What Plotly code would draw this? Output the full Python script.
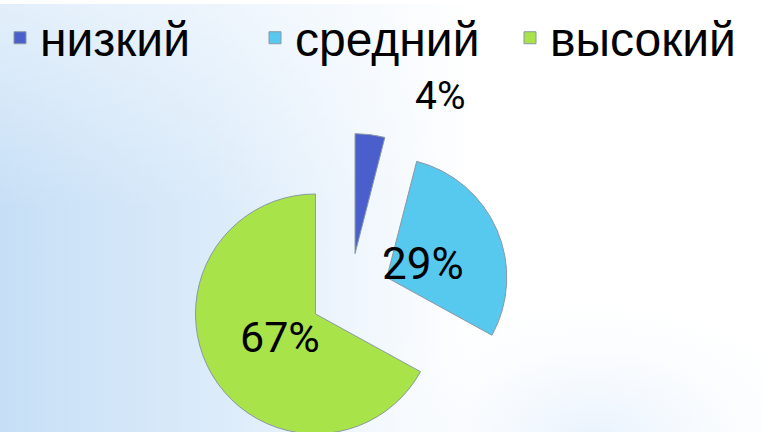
import base64
import plotly.graph_objects as go

# ---- data ----
labels = ["низкий", "средний", "высокий"]
values = [4, 29, 67]
colors = ["#4a5fcc", "#57c8ee", "#a8e34a"]

W, H = 762, 460

# decorative background (soft blue gradient on the left)
svg = f'''<svg xmlns="http://www.w3.org/2000/svg" width="{W}" height="{H}" viewBox="0 0 {W} {H}" preserveAspectRatio="none">
<defs>
<linearGradient id="h" x1="0" y1="0" x2="1" y2="0">
<stop offset="0" stop-color="#c6dff6"/>
<stop offset="0.28" stop-color="#dbebfa"/>
<stop offset="0.62" stop-color="#ffffff"/>
</linearGradient>
<linearGradient id="v" x1="0" y1="0" x2="0" y2="1">
<stop offset="0" stop-color="#ffffff" stop-opacity="0.5"/>
<stop offset="0.45" stop-color="#ffffff" stop-opacity="0"/>
<stop offset="1" stop-color="#ffffff" stop-opacity="0"/>
</linearGradient>
<radialGradient id="r" cx="0.78" cy="0.95" r="0.35">
<stop offset="0" stop-color="#e6f1fd" stop-opacity="0.9"/>
<stop offset="1" stop-color="#ffffff" stop-opacity="0"/>
</radialGradient>
</defs>
<rect width="{W}" height="{H}" fill="url(#h)"/>
<rect width="{W}" height="{H}" fill="url(#v)"/>
<rect width="{W}" height="{H}" fill="url(#r)"/>
</svg>'''
bg_src = "data:image/svg+xml;base64," + base64.b64encode(svg.encode()).decode()

total = sum(values)
pct = [f"{round(100 * v / total)}%" for v in values]

fig = go.Figure(go.Pie(
    labels=labels,
    values=values,
    sort=False,
    direction="clockwise",
    rotation=0,
    pull=[0.335, 0.335, 0.335],
    marker=dict(colors=colors, line=dict(color="#8a98a4", width=1)),
    textinfo="none",
    domain=dict(x=[188.5 / W, 511.5 / W], y=[1 - 453.5 / H, 1 - 130.5 / H]),
    hoverinfo="label+percent",
))

label_font = dict(family="Roboto, Liberation Sans, Arial", color="#000000")
label_pos = [(440, 93, 39), (423, 262, 44), (280, 336, 43)]
for txt, (px, py, fs) in zip(pct, label_pos):
    fig.add_annotation(
        text=txt, x=px / W, y=1 - py / H, xref="paper", yref="paper",
        showarrow=False, xanchor="center", yanchor="middle",
        font=dict(size=fs, **label_font),
    )

fig.update_layout(
    width=W, height=H,
    margin=dict(l=0, r=0, t=0, b=0),
    paper_bgcolor="#ffffff",
    plot_bgcolor="rgba(0,0,0,0)",
    showlegend=True,
    legend=dict(
        orientation="h", x=9 / W, y=1 + 4 / H, xanchor="left", yanchor="top",
        font=dict(family="Liberation Sans, Arial", size=48, color="#000000"),
        bgcolor="rgba(0,0,0,0)", entrywidth=210, entrywidthmode="pixels",
        traceorder="normal",
    ),
    images=[dict(source=bg_src, xref="paper", yref="paper", x=0, y=1,
                 sizex=1, sizey=1, sizing="stretch", layer="below")],
)

fig.write_html(
    "out.html",
    config={"displayModeBar": False},
    post_script=(
        "document.body.style.margin='0';"
        "document.body.style.overflow='hidden';"
        "document.documentElement.style.overflow='hidden';"
    ),
)
